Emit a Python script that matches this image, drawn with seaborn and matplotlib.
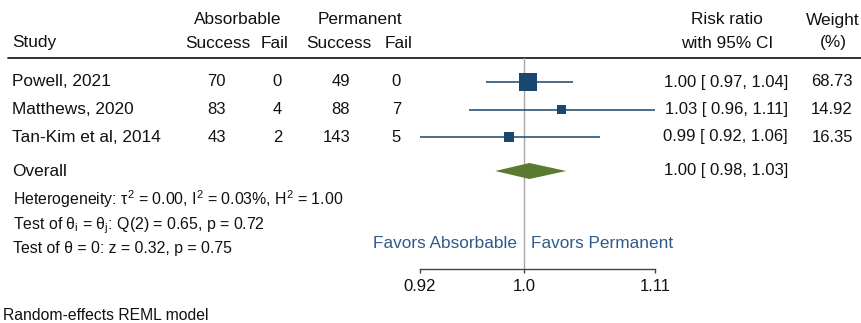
import matplotlib
matplotlib.use('Agg')
import matplotlib.pyplot as plt
from matplotlib.ticker import NullLocator
import pandas as pd
import seaborn as sns

# data
studies = ['Powell, 2021', 'Matthews, 2020', 'Tan-Kim et al, 2014']
abs_success = [70, 83, 43]
abs_fail = [0, 4, 2]
perm_success = [49, 88, 143]
perm_fail = [0, 7, 5]
rr = [1.003, 1.030, 0.988]
rr_low = [0.970, 0.957, 0.920]
rr_high = [1.040, 1.110, 1.062]
weights = [68.73, 14.92, 16.35]

overall_rr = 1.004
overall_low = 0.977
overall_high = 1.034

het_text = 'Heterogeneity: τ$^2$ = 0.00, I$^2$ = 0.03%, H$^2$ = 1.00'
q_text = r'Test of θ$_\mathrm{i}$ = θ$_\mathrm{j}$: Q(2) = 0.65, p = 0.72'
z_text = 'Test of θ = 0: z = 0.32, p = 0.75'
note_text = 'Random-effects REML model'

xticks = [0.92, 1.0, 1.11]
xtick_labels = ['0.92', '1.0', '1.11']

sns.set_theme(style='white')
plt.rcParams['font.family'] = ['Liberation Sans', 'DejaVu Sans']
plt.rcParams['mathtext.fontset'] = 'custom'
plt.rcParams['mathtext.rm'] = 'Liberation Sans'
plt.rcParams['mathtext.it'] = 'Liberation Sans:italic'

navy = '#1a476f'
green = '#5a7a30'
txt = '#111111'
fs = 12        # numbers
fw = 12.4      # words
fstat = 11.4   # heterogeneity block

df = pd.DataFrame({'study': studies, 'rr': rr, 'low': rr_low, 'high': rr_high,
                   'weight': weights, 'row': range(len(studies))})

W, H = 861, 323
fig = plt.figure(figsize=(W / 100, H / 100), dpi=100)

# overlay for the table text, in pixel units
tx = fig.add_axes([0, 0, 1, 1])
tx.set_xlim(0, W)
tx.set_ylim(H, 0)
tx.axis('off')

# forest panel
top, bottom, left, right = 58, 269, 420, 655
pitch = 27.5
row0 = 82
ax = fig.add_axes([left / W, (H - bottom) / H, (right - left) / W, (bottom - top) / H])
ax.set_xscale('log')
ax.set_xlim(0.92, 1.11)
ax.set_ylim((bottom - row0) / pitch, (top - row0) / pitch)
ax.patch.set_alpha(0)

overall_row = (171 - row0) / pitch

ax.axvline(1.0, color='#a8a8a8', lw=1, zorder=1)
ax.hlines(df['row'], df['low'], df['high'], color=navy, lw=1.1, zorder=2)
sns.scatterplot(data=df, x='rr', y='row', size='weight', sizes=(45, 168),
                marker='s', color=navy, linewidth=0, legend=False, ax=ax, zorder=3)
dh = 8 / pitch
ax.fill([overall_low, overall_rr, overall_high, overall_rr],
        [overall_row, overall_row - dh, overall_row, overall_row + dh],
        color=green, lw=0, zorder=3)

for s in ['top', 'left', 'right']:
    ax.spines[s].set_visible(False)
ax.spines['bottom'].set_color('#444444')
ax.spines['bottom'].set_linewidth(1)
ax.set_xticks(xticks)
ax.set_xticklabels(xtick_labels)
ax.xaxis.set_minor_locator(NullLocator())
ax.set_yticks([])
ax.set_xlabel('')
ax.set_ylabel('')
ax.tick_params(axis='x', direction='out', length=3, width=1, color='#444444',
               labelsize=fs, labelcolor=txt, pad=4.5, bottom=True)

# header
tx.text(238, 20, 'Absorbable', ha='center', va='center', fontsize=fw, color=txt)
tx.text(360, 20, 'Permanent', ha='center', va='center', fontsize=fw, color=txt)
tx.text(12, 43, 'Study', ha='left', va='center', fontsize=fw, color=txt)
for x, lab in [(250, 'Success'), (288, 'Fail'), (371, 'Success'), (413, 'Fail')]:
    tx.text(x, 43, lab, ha='right', va='center', fontsize=fw, color=txt)
tx.text(727, 20, 'Risk ratio', ha='center', va='center', fontsize=fw, color=txt)
tx.text(727, 43, 'with 95% CI', ha='center', va='center', fontsize=fw, color=txt)
tx.text(833, 20, 'Weight', ha='center', va='center', fontsize=fw, color=txt)
tx.text(833, 43, '(%)', ha='center', va='center', fontsize=fw, color=txt)
tx.plot([8, W], [58, 58], color='#222222', lw=1.3)

# study rows
for i in range(len(studies)):
    y = row0 + pitch * i
    tx.text(12, y, studies[i], ha='left', va='center', fontsize=fw, color=txt)
    tx.text(226, y, str(abs_success[i]), ha='right', va='center', fontsize=fs, color=txt)
    tx.text(282, y, str(abs_fail[i]), ha='right', va='center', fontsize=fs, color=txt)
    tx.text(350, y, str(perm_success[i]), ha='right', va='center', fontsize=fs, color=txt)
    tx.text(401, y, str(perm_fail[i]), ha='right', va='center', fontsize=fs, color=txt)
    lab = f'{rr[i]:.2f} [ {rr_low[i]:.2f}, {rr_high[i]:.2f}]'
    tx.text(788, y, lab, ha='right', va='center', fontsize=fs, color=txt)
    tx.text(853, y, f'{weights[i]:.2f}', ha='right', va='center', fontsize=fs, color=txt)

tx.text(12, 172, 'Overall', ha='left', va='center', fontsize=fw, color=txt)
tx.text(788, 171, f'{overall_rr:.2f} [ {overall_low:.2f}, {overall_high:.2f}]',
        ha='right', va='center', fontsize=fs, color=txt)

# heterogeneity block, placed by baseline so mathtext does not shift it
tx.text(13, 205.5, het_text, ha='left', va='baseline', fontsize=fstat, color=txt)
tx.text(13, 229, q_text, ha='left', va='baseline', fontsize=fstat, color=txt)
tx.text(13, 252.5, z_text, ha='left', va='baseline', fontsize=fstat, color=txt)

tx.text(517, 244, 'Favors Absorbable', ha='right', va='center', fontsize=fw, color='#2f5b8a')
tx.text(531, 244, 'Favors Permanent', ha='left', va='center', fontsize=fw, color='#2f5b8a')

tx.text(3, 315, note_text, ha='left', va='center', fontsize=11.3, color=txt)

fig.savefig('out.png', dpi=100)
